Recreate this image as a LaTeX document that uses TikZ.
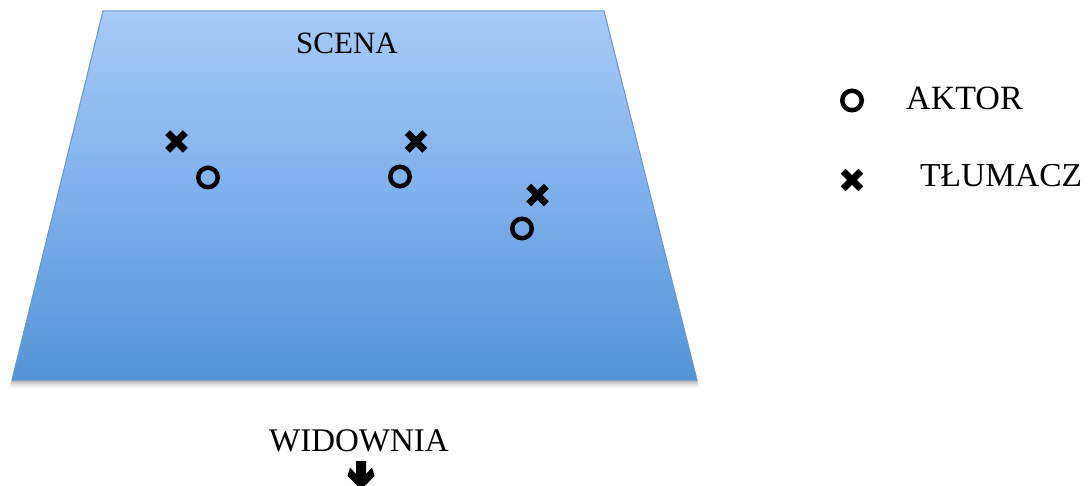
\documentclass[tikz,border=0pt]{standalone}
\usepackage{fontspec}
\setmainfont{Liberation Serif}
\definecolor{stagetop}{RGB}{167,202,247}
\definecolor{stagemid}{RGB}{126,176,236}
\definecolor{stagebot}{RGB}{83,148,213}
\definecolor{stageline}{RGB}{105,150,210}
\tikzset{
  actor/.style={circle,draw=black,line width=4.5pt,minimum size=19.5pt,inner sep=0pt},
  cross/.pic={\draw[line width=7pt,line cap=butt] (-8.8,-8.8)--(8.8,8.8) (-8.8,8.8)--(8.8,-8.8);},
  lbl/.style={inner sep=0pt,text=black}
}
\begin{document}
\begin{tikzpicture}[x=1pt,y=-1pt]
\clip (0,0) rectangle (1092,486);
\fill[white] (0,0) rectangle (1092,486);
% shadow
\foreach \d/\o in {8/0.04,6/0.06,4/0.09,2/0.13}{
  \fill[black,opacity=\o] (103,11+\d) -- (604,11+\d) -- (697+0.3*\d,380+\d) -- (12-0.3*\d,380+\d) -- cycle;
}
% stage
\draw[stageline,line width=1pt,top color=stagetop,bottom color=stagebot,middle color=stagemid]
  (103,11) coordinate (tl) -- (604,11) coordinate (tr) -- (697,380) coordinate (br) -- (12,380) coordinate (bl) -- cycle;
\node[lbl,anchor=base] (scena) at (347,53.3) {\fontsize{31}{37}\selectfont SCENA};
% markers on stage
\pic at (176.5,141.5) {cross};
\node[actor] (a1) at (208,177.5) {};
\pic at (416,141.5) {cross};
\node[actor] (a2) at (400,176.5) {};
\pic at (537.5,195) {cross};
\node[actor] (a3) at (522,228.5) {};
% legend
\node[actor] (la) at (852,100.5) {};
\node[lbl,anchor=base west] (aktor) at (906,109.3) {\fontsize{34}{40}\selectfont AKTOR};
\pic at (852,180) {cross};
\node[lbl,anchor=base west] (tlumacz) at (920,187) {\fontsize{33.5}{40}\selectfont TŁUMACZ};
% audience
\node[lbl,anchor=base] (widownia) at (359,451) {\fontsize{33}{40}\selectfont WIDOWNIA};
\fill[black] (356,461) -- (366,461) -- (366,474) -- (372,467.5) -- (374.5,476) -- (361,489.5) -- (347.5,476) -- (350,467.5) -- (356,474) -- cycle;
\end{tikzpicture}
\end{document}
